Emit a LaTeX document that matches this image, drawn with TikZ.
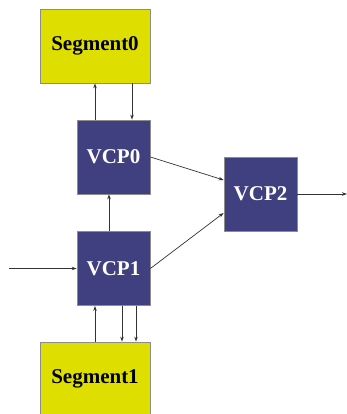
\documentclass[tikz,border=0pt]{standalone}
\usepackage{fontspec}
\setmainfont{Liberation Serif}
\usetikzlibrary{arrows.meta,positioning}
\definecolor{segyellow}{RGB}{222,222,0}
\definecolor{vcpblue}{RGB}{64,64,128}
\tikzset{
  >={Stealth[length=5pt,width=3.5pt]},
  segbox/.style={draw=black!45,fill=segyellow,line width=0.8pt,
    minimum width=110pt,minimum height=74pt,inner sep=0pt,
    font=\fontsize{21}{24}\selectfont\bfseries,text=black},
  vcpbox/.style={draw=black!45,fill=vcpblue,line width=0.8pt,
    minimum width=73pt,minimum height=74pt,inner sep=0pt,
    font=\fontsize{21}{24}\selectfont\bfseries,text=white},
  flow/.style={->,line width=0.7pt,black!80},
}
\begin{document}
\begin{tikzpicture}[x=1pt,y=-1pt]
  \useasboundingbox (0,0) rectangle (347,414);
  \node[segbox] (seg0) at (95,46) {Segment0};
  \node[vcpbox] (vcp0) at (113.5,157) {VCP0};
  \node[vcpbox] (vcp1) at (113.5,268.5) {VCP1};
  \node[vcpbox] (vcp2) at (260.5,194) {VCP2};
  \node[segbox] (seg1) at (95,379) {Segment1};
  \coordinate (in) at (9,268.5);
  \coordinate (out) at (347,194);
  % segment 0 <-> vcp0
  \draw[flow] ([xshift=-18.5pt]vcp0.north) -- ([xshift=-18.5pt]vcp0.north |- seg0.south);
  \draw[flow] ([xshift=18.5pt]vcp0.north |- seg0.south) -- ([xshift=18.5pt]vcp0.north);
  % vcp1 -> vcp0
  \draw[flow] ([xshift=-4.5pt]vcp1.north) -- ([xshift=-4.5pt]vcp0.south);
  % into vcp2
  \draw[flow] (vcp0.east) -- ([yshift=14pt]vcp2.west);
  \draw[flow] (vcp1.east) -- ([yshift=-19pt]vcp2.west);
  % segment 1 <-> vcp1
  \draw[flow] ([xshift=-18.5pt]vcp1.south |- seg1.north) -- ([xshift=-18.5pt]vcp1.south);
  \foreach \dx in {8.5,22.5}
    \draw[flow] ([xshift=\dx pt]vcp1.south) -- ([xshift=\dx pt]vcp1.south |- seg1.north);
  % in / out
  \draw[flow] (in) -- (vcp1.west);
  \draw[flow] (vcp2.east) -- (out);
\end{tikzpicture}
\end{document}
